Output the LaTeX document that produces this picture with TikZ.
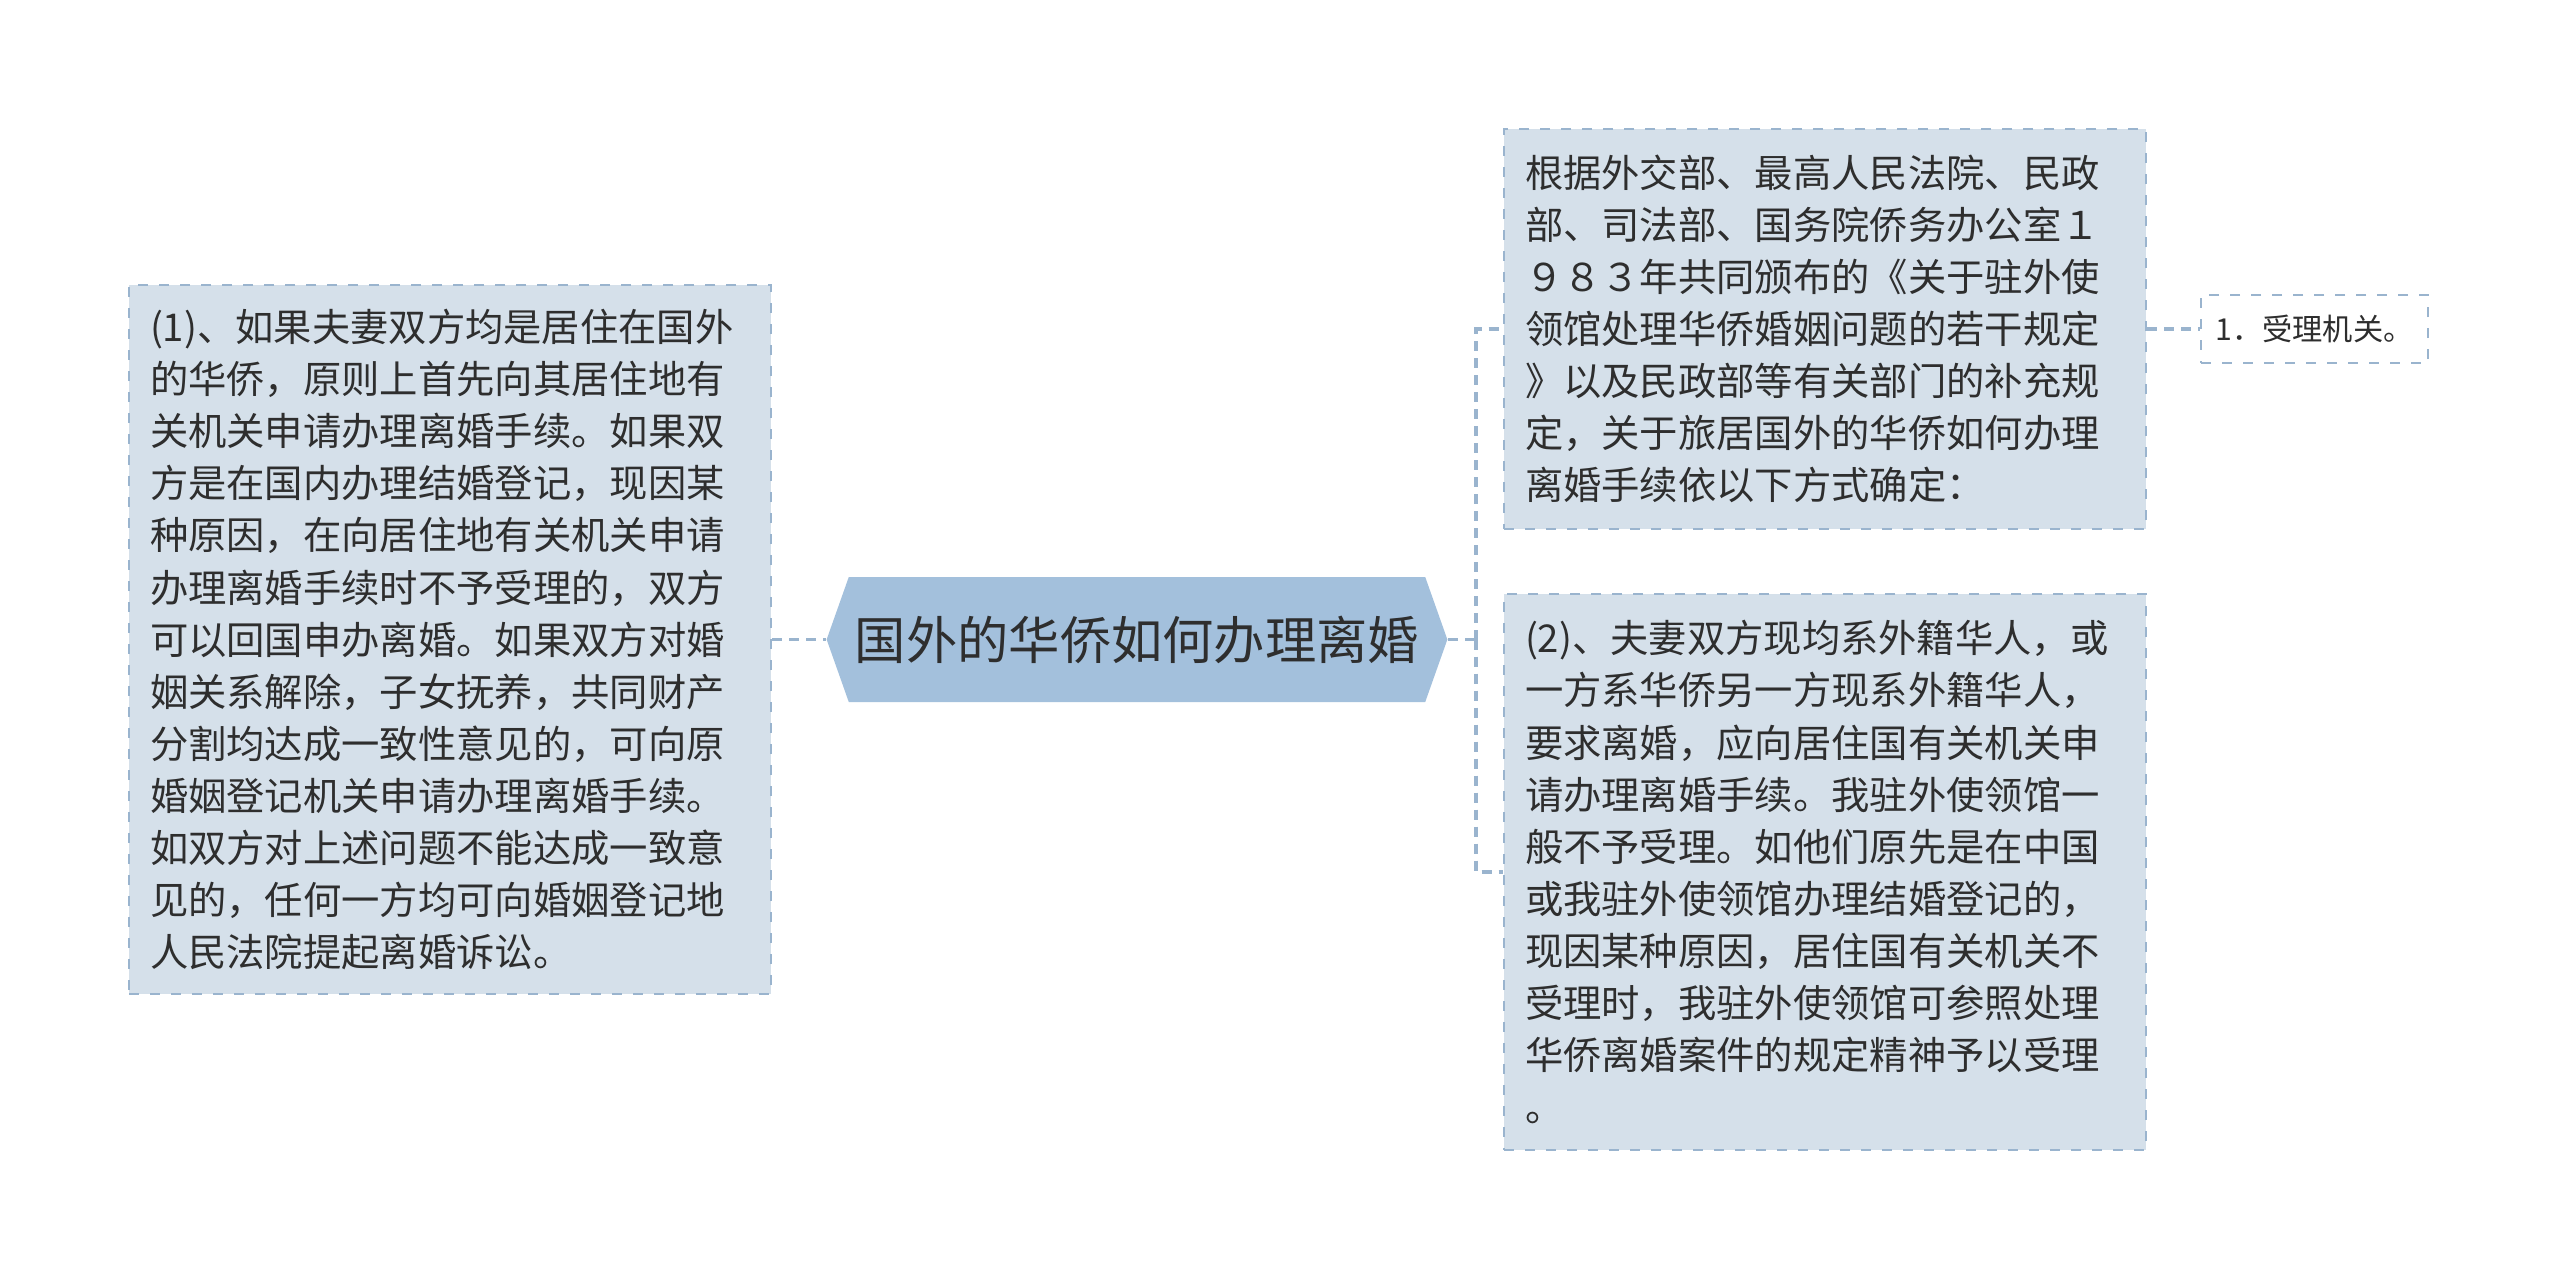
\documentclass[tikz,border=0pt]{standalone}
\usepackage{fontspec}
\setmainfont{Noto Sans CJK SC}
\usepackage{tikz}
\usetikzlibrary{shapes,positioning}
\definecolor{leaffill}{HTML}{D5E0EA}
\definecolor{leafline}{HTML}{9AB4CE}
\definecolor{rootfill}{HTML}{A3C0DC}
\definecolor{txt}{HTML}{2E2E2E}
\tikzstyle{conn}=[draw=leafline,line width=0.35mm,dash pattern=on 1mm off 0.7mm]
\tikzstyle{leaf} =
  [rectangle, draw=leafline, fill=leaffill, line width=0.2mm,
   dash pattern=on 1mm off 1.1mm, text=txt, align=left, text width=60mm,
   inner xsep=2.1mm, font=\fontsize{10.9pt}{14.8pt}\selectfont]
\tikzstyle{root} =
  [signal, signal to=west and east, signal pointer angle=141, fill=rootfill,
   text=txt, inner xsep=0.6mm, minimum height=12.5mm,
   font=\fontsize{14.6pt}{17pt}\selectfont]
\tikzstyle{tip} =
  [rectangle, draw=leafline, fill=white, line width=0.2mm,
   dash pattern=on 1mm off 1.1mm, text=txt, minimum width=22.7mm,
   minimum height=6.8mm, font=\fontsize{8.6pt}{10pt}\selectfont]

\begin{document}
\begin{tikzpicture}[x=0.1mm,y=-0.1mm]
  \fill [white] (0,0) rectangle (2560,1280);
  \useasboundingbox (0,0) rectangle (2560,1280);

  \node [root] (root) at (1137,639.5) {国外的华侨如何办理离婚};
  \node [leaf, left of=root, node distance=68.7mm, minimum height=70.9mm] (one)
  {(1)、如果夫妻双方均是居住在国外\\的华侨，原则上首先向其居住地有\\
   关机关申请办理离婚手续。如果双\\方是在国内办理结婚登记，现因某\\
   种原因，在向居住地有关机关申请\\办理离婚手续时不予受理的，双方\\
   可以回国申办离婚。如果双方对婚\\姻关系解除，子女抚养，共同财产\\
   分割均达成一致性意见的，可向原\\婚姻登记机关申请办理离婚手续。\\
   如双方对上述问题不能达成一致意\\见的，任何一方均可向婚姻登记地\\
   人民法院提起离婚诉讼。};
  \node [leaf, right of=root, node distance=68.8mm, yshift=31.05mm,
    minimum height=40mm] (basis)
  {根据外交部、最高人民法院、民政\\部、司法部、国务院侨务办公室１\\
   ９８３年共同颁布的《关于驻外使\\领馆处理华侨婚姻问题的若干规定\\
   》以及民政部等有关部门的补充规\\定，关于旅居国外的华侨如何办理\\
   离婚手续依以下方式确定：};
  \node [leaf, right of=root, node distance=68.8mm, yshift=-23.25mm,
    minimum height=55.6mm] (two)
  {(2)、夫妻双方现均系外籍华人，或\\一方系华侨另一方现系外籍华人，\\
   要求离婚，应向居住国有关机关申\\请办理离婚手续。我驻外使领馆一\\
   般不予受理。如他们原先是在中国\\或我驻外使领馆办理结婚登记的，\\
   现因某种原因，居住国有关机关不\\受理时，我驻外使领馆可参照处理\\
   华侨离婚案件的规定精神予以受理\\。};
  \node [tip, right of=basis, node distance=48.95mm] (organ) {1．受理机关。};

  % connectors
  \coordinate (fork) at (1476,639.5);
  \draw [conn] (one.east) -- (root.west);
  \draw [conn] (root.east) -- (fork);
  \draw [conn] (fork) |- (basis.west);
  \draw [conn] (fork) |- (two.west);
  \draw [conn] (basis.east) -- (organ.west);
\end{tikzpicture}
\end{document}
